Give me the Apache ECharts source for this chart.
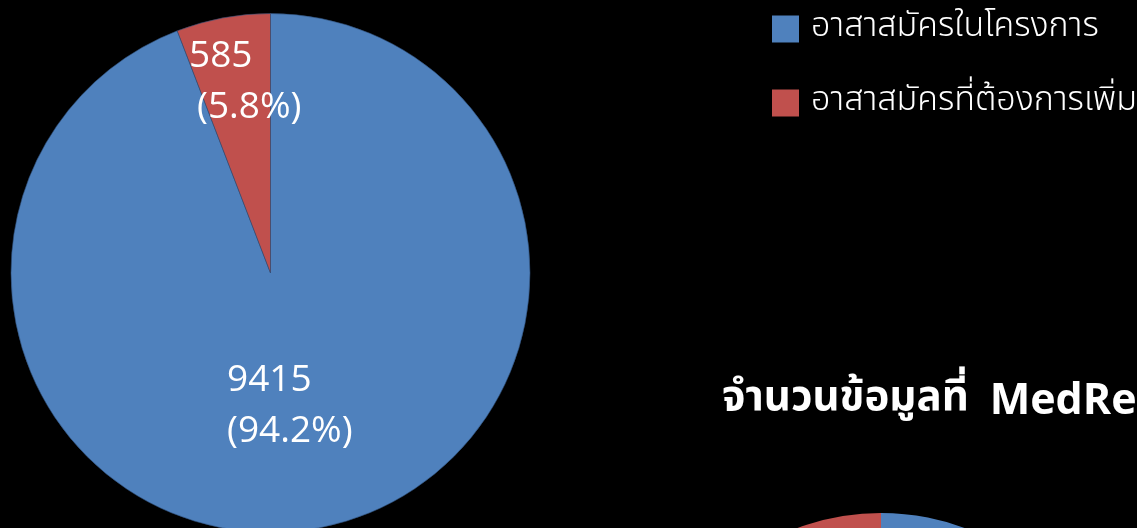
<!DOCTYPE html>
<html>
<head>
<meta charset="utf-8">
<script src="https://cdn.jsdelivr.net/npm/echarts@6/dist/echarts.min.js"></script>
<style>
  html, body { margin: 0; padding: 0; background: #000; }
  #chart { width: 1137px; height: 528px; }
</style>
</head>
<body>
<div id="chart"></div>
<script>
// Volunteer counts: enrolled in the project vs. additional volunteers needed
const categories = ['อาสาสมัครในโครงการ', 'อาสาสมัครที่ต้องการเพิ่ม'];
const volunteerCounts = [9415, 585];
// Second chart (records in MedRec), only its top edge is in view
const recordCounts = [9000, 1000];
const sliceColors = ['#4F81BD', '#C0504D'];
const titleText = 'จำนวนข้อมูลที่ ';
const titleBold = 'MedResearch';

const thaiFont = '"Noto Sans Thai", "Noto Sans", "Open Sans", sans-serif';
const latinFont = '"Open Sans", sans-serif';

// Percent shares with one decimal that add up to exactly 100
function shares(values) {
  const total = values.reduce((a, b) => a + b, 0);
  const out = values.map(v => Math.round(v / total * 1000) / 10);
  const rest = out.slice(0, -1).reduce((a, b) => a + b, 0);
  out[out.length - 1] = Math.round((100 - rest) * 10) / 10;
  return out;
}
const volunteerShares = shares(volunteerCounts);

function pieData(values) {
  return values.map((v, i) => ({
    name: categories[i],
    value: v,
    itemStyle: { color: sliceColors[i] }
  }));
}

const labelLine = { color: '#fff', fontSize: 37, lineHeight: 51, fontFamily: latinFont };

const chart = echarts.init(document.getElementById('chart'), null, { renderer: 'canvas' });
chart.setOption({
  backgroundColor: '#000',
  animation: false,
  title: {
    text: '{t|' + titleText + '}{b|' + titleBold + '}',
    left: 717,
    top: 375,
    textStyle: {
      rich: {
        t: { color: '#fff', fontSize: 42, fontWeight: 'bold', fontFamily: thaiFont },
        b: { color: '#fff', fontSize: 43, fontWeight: 'bold', fontFamily: latinFont, padding: [0, 0, 0, 10] }
      }
    }
  },
  legend: {
    orient: 'vertical',
    left: 772,
    top: 12,
    padding: 0,
    icon: 'rect',
    itemWidth: 27,
    itemHeight: 27,
    itemGap: 40,
    data: categories,
    itemStyle: { borderWidth: 0 },
    textStyle: { color: '#fff', fontSize: 34, fontWeight: 300, fontFamily: thaiFont, padding: [0, 0, 0, 7] }
  },
  series: [
    {
      type: 'pie',
      center: [270.5, 273],
      radius: 259.5,
      startAngle: 90,
      clockwise: true,
      silent: true,
      data: pieData(volunteerCounts),
      itemStyle: { borderColor: '#2f4f78', borderWidth: 0.6 },
      label: {
        show: true,
        position: 'inside',
        color: '#fff',
        fontSize: 37,
        lineHeight: 51,
        fontFamily: latinFont,
        formatter: p => '{v|' + p.value + '}\n{' + (p.dataIndex === 1 ? 'q' : 'p') + '|(' +
          volunteerShares[p.dataIndex].toFixed(1) + '%)}',
        rich: {
          v: labelLine,
          p: labelLine,
          q: Object.assign({}, labelLine, { padding: [0, 0, 0, 8] })
        }
      },
      labelLine: { show: false },
      labelLayout: function (params) {
        if (params.dataIndex === 0) {
          return { x: 227, y: 406, align: 'left', verticalAlign: 'middle' };
        }
        return { x: 189, y: 82, align: 'left', verticalAlign: 'middle' };
      }
    },
    {
      type: 'pie',
      center: [881, 753],
      radius: 240,
      startAngle: 90,
      clockwise: true,
      silent: true,
      data: pieData(recordCounts),
      label: { show: false },
      labelLine: { show: false }
    }
  ]
});
</script>
</body>
</html>
